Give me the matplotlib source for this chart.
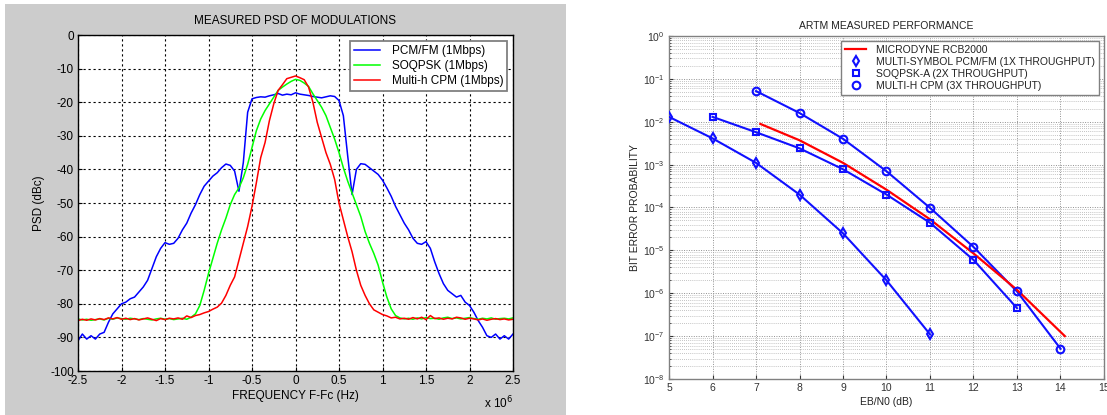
import numpy as np
import matplotlib
matplotlib.use("Agg")
import matplotlib.pyplot as plt
from matplotlib.patches import Rectangle
from matplotlib.ticker import FuncFormatter, MultipleLocator, LogLocator, NullFormatter

plt.rcParams["font.family"] = ["Liberation Sans", "DejaVu Sans"]
plt.rcParams["axes.unicode_minus"] = False

# ---- left panel: measured PSD (frequency grid in MHz, step 0.05) ----
freq_mhz = np.round(np.arange(-2.5, 2.5001, 0.05), 2)

psd_pcmfm = [
    -91, -89, -90.5, -89.5, -90.5, -89, -88.5, -85.5, -83, -81.5,
    -80, -79.5, -78.5, -78, -76.5, -75, -73, -69.5, -66, -63.5,
    -61.8, -62.3, -62, -60.5, -58, -56, -53, -50.5, -47.5, -45,
    -43.5, -42, -41, -39.5, -38.4, -38.8, -40.5, -46.5, -38, -23,
    -19, -18.6, -18.4, -18.5, -18.1, -17.8, -17.4, -17.9, -17.6, -17.8,
    -17.2, -17.6, -17.8, -18, -18.3, -18.5, -18.7, -18.4, -18.1, -18.3,
    -19.5, -24, -36, -47.5, -40, -38.3, -38.5, -39.5, -40.5, -41.5,
    -43.2, -45.5, -48, -51, -53.5, -56, -58, -60.5, -62, -62.3,
    -61.5, -63.5, -67.5, -71, -74, -76, -77, -78, -77.5, -79.5,
    -80.5, -82.5, -85, -87, -89.5, -90, -89, -90.5, -89.5, -90.5,
    -89,
]
psd_soqpsk = [
    -84.5, -84.8, -84.6, -84.9, -84.7, -84.5, -84.8, -84.3, -84.6, -84.2,
    -84.4, -84.6, -84.3, -84.5, -84.7, -84.4, -84.6, -84.8, -84.5, -84.3,
    -84.6, -84.4, -84.7, -84.5, -84.3, -84.6, -84, -83, -80.5, -76,
    -71, -66.5, -62, -58, -54.5, -50.5, -47.5, -45.5, -42.5, -38.5,
    -33.5, -28.5, -25, -22.5, -20.5, -18.5, -16.5, -15.5, -14.6, -13.8,
    -13.2, -13.5, -14.3, -15.3, -17.5, -19.5, -21.5, -24, -27.5, -31,
    -35, -39.5, -43.5, -47, -50.5, -54, -58.5, -62, -65, -68.5,
    -73.5, -78, -81.5, -83.5, -84.2, -84.5, -84.3, -84.6, -84.2, -84.5,
    -84.1, -84.4, -84.3, -84.6, -84.2, -84, -84.4, -84.2, -84.5, -84.3,
    -84.1, -84.4, -84.6, -84.3, -84.5, -84.2, -84.6, -84.4, -84.3, -84.5,
    -84.2,
]
psd_multih = [
    -85, -84.6, -84.9, -84.5, -84.8, -84.4, -84.7, -84.2, -84.5, -84.1,
    -84.6, -84.3, -84.7, -84.4, -84.8, -84.5, -84.2, -84.6, -85, -84.4,
    -84.7, -84.3, -84.5, -84.2, -84.6, -83.6, -84.1, -83.5, -83.2, -82.7,
    -82.3, -81.6, -81, -79.8, -77.5, -74.5, -72, -67, -62, -57,
    -51, -44, -36.5, -32, -25.5, -20.5, -16.5, -14.8, -13, -12.6,
    -12.2, -12.7, -13.3, -15.5, -20, -26, -30.5, -35, -38.5, -43,
    -50, -55, -60, -64.5, -70, -74.5, -77.5, -80, -81.8, -82.5,
    -83.2, -83.6, -84.2, -84, -84.5, -84.3, -84.6, -84.1, -84.5, -84,
    -84.7, -83.5, -84.4, -84.2, -84.6, -84.3, -84.5, -84, -84.2, -84.6,
    -84.3, -84.5, -84.8, -84.5, -84.9, -84.6, -84.4, -84.7, -84.5, -84.8,
    -84.6,
]

# ---- right panel: BER curves ----
ebn0_pcmfm = [5, 6, 7, 8, 9, 10, 11]
ber_pcmfm = [1.3e-2, 4.1e-3, 1.1e-3, 2.0e-4, 2.5e-5, 2.0e-6, 1.1e-7]
ebn0_soqpsk = [6, 7, 8, 9, 10, 11, 12, 13]
ber_soqpsk = [1.3e-2, 5.7e-3, 2.4e-3, 7.8e-4, 2.0e-4, 4.4e-5, 6.0e-6, 4.5e-7]
ebn0_cpm = [7, 8, 9, 10, 11, 12, 13, 14]
ber_cpm = [5.2e-2, 1.6e-2, 4.0e-3, 7.0e-4, 9.8e-5, 1.2e-5, 1.1e-6, 5.1e-8]
ebn0_rcb = [7.1, 8, 9, 10, 11, 12, 13, 14.1]
ber_rcb = [8.9e-3, 3.7e-3, 1.1e-3, 2.6e-4, 5.3e-5, 8.5e-6, 1.2e-6, 1.0e-7]

W, H = 1107, 415
fig = plt.figure(figsize=(W / 100, H / 100), dpi=100, facecolor="white")
fig.add_artist(Rectangle((5 / W, 0), 561 / W, 411 / H, transform=fig.transFigure,
                         facecolor="#cccccc", edgecolor="none", zorder=-10))

# left axes
ax1 = fig.add_axes([78 / W, 44 / H, 435 / W, 336 / H])
freq_hz = freq_mhz * 1e6
ax1.plot(freq_hz, psd_pcmfm, color="#0000ff", lw=1.1, label="PCM/FM (1Mbps)")
ax1.plot(freq_hz, psd_soqpsk, color="#00ff00", lw=1.1, label="SOQPSK (1Mbps)")
ax1.plot(freq_hz, psd_multih, color="#ff0000", lw=1.1, label="Multi-h CPM (1Mbps)")
ax1.set_xlim(-2.5e6, 2.5e6)
ax1.set_ylim(-100, 0)
ax1.xaxis.set_major_locator(MultipleLocator(0.5e6))
ax1.yaxis.set_major_locator(MultipleLocator(10))
ax1.xaxis.set_major_formatter(FuncFormatter(lambda v, p: f"{v / 1e6:g}"))
ax1.yaxis.set_major_formatter(FuncFormatter(lambda v, p: f"{v:g}"))
ax1.grid(True, color="black", ls=(0, (2, 2.5)), lw=0.8)
ax1.tick_params(direction="in", labelsize=8.5, length=3, pad=3)
for s in ax1.spines.values():
    s.set_linewidth(1.0)
ax1.set_title("MEASURED PSD OF MODULATIONS", fontsize=8.5, pad=8)
ax1.set_xlabel("FREQUENCY F-Fc (Hz)", fontsize=8.5, labelpad=2)
ax1.set_ylabel("PSD (dBc)", fontsize=8.5, labelpad=4)
ax1.text(1.0, -0.07, r"x 10$^6$", transform=ax1.transAxes, ha="right", va="top", fontsize=8.5)
leg1 = ax1.legend(loc="upper right", bbox_to_anchor=(0.987, 0.983), borderaxespad=0,
                  fontsize=8.5, fancybox=False, framealpha=1, edgecolor="#808080",
                  handlelength=2.2, handletextpad=1.0, labelspacing=0.25,
                  borderpad=0.35)
leg1.get_frame().set_linewidth(1.3)

# right axes
ax2 = fig.add_axes([669 / W, 36 / H, 435 / W, 343 / H])
blue = "#1010ff"
ax2.plot(ebn0_rcb, ber_rcb, color="#ff0000", lw=1.6, label="MICRODYNE RCB2000", zorder=4)
ax2.plot(ebn0_pcmfm, ber_pcmfm, color=blue, lw=1.5, zorder=3)
ax2.plot(ebn0_soqpsk, ber_soqpsk, color=blue, lw=1.5, zorder=3)
ax2.plot(ebn0_cpm, ber_cpm, color=blue, lw=1.5, zorder=3)
ax2.plot(ebn0_pcmfm, ber_pcmfm, ls="none", marker="d", ms=5, mfc="none", mec=blue, mew=1.5,
         label="MULTI-SYMBOL PCM/FM (1X THROUGHPUT)", zorder=5)
ax2.plot(ebn0_soqpsk, ber_soqpsk, ls="none", marker="s", ms=5, mfc="none", mec=blue, mew=1.5,
         label="SOQPSK-A (2X THROUGHPUT)", zorder=5)
ax2.plot(ebn0_cpm, ber_cpm, ls="none", marker="o", ms=5.5, mfc="none", mec=blue, mew=1.5,
         label="MULTI-H CPM (3X THROUGHPUT)", zorder=5)
ax2.set_yscale("log")
ax2.set_xlim(5, 15)
ax2.set_ylim(1e-8, 1)
ax2.xaxis.set_major_locator(MultipleLocator(1))
ax2.yaxis.set_major_locator(LogLocator(base=10, numticks=20))
ax2.yaxis.set_minor_locator(LogLocator(base=10, subs=np.arange(2, 10), numticks=20))
ax2.yaxis.set_minor_formatter(NullFormatter())
ax2.grid(True, which="major", color="#909090", ls=(0, (1, 1.5)), lw=0.7)
ax2.grid(True, which="minor", axis="y", color="#b0b0b0", ls=(0, (1, 1.5)), lw=0.6)
ax2.tick_params(which="both", direction="in", labelsize=7.5, colors="#333333", length=3, pad=3)
ax2.tick_params(which="minor", length=1.5)
for s in ax2.spines.values():
    s.set_color("#808080")
    s.set_linewidth(1.0)
ax2.set_title("ARTM MEASURED PERFORMANCE", fontsize=7.5, pad=5, color="#222222")
ax2.set_xlabel("EB/N0 (dB)", fontsize=7.5, labelpad=3, color="#222222")
ax2.set_ylabel("BIT ERROR PROBABILITY", fontsize=7.5, labelpad=2, color="#222222")
leg2 = ax2.legend(loc="upper right", bbox_to_anchor=(0.9885, 0.985), borderaxespad=0,
                  fontsize=7.5, fancybox=False, framealpha=1, edgecolor="#808080",
                  handlelength=2.0, handletextpad=1.0, labelspacing=0.2, borderpad=0.35)
leg2.get_frame().set_linewidth(1.0)
for t in leg2.get_texts():
    t.set_color("#222222")

fig.savefig("out.png", dpi=100)
